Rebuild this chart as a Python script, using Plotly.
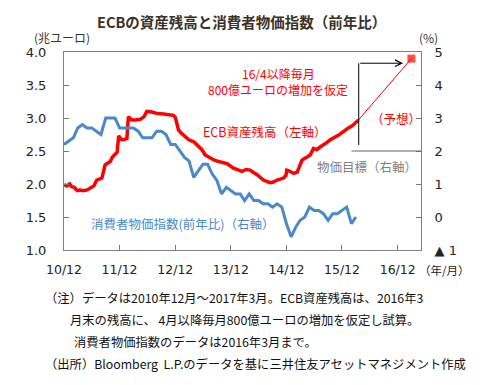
import plotly.graph_objects as go

# ---------------- data ----------------
ecb_dates = [
    "2010-12-01","2010-12-20","2011-01-07","2011-01-20","2011-02-07","2011-02-25","2011-03-15","2011-04-07",
    "2011-05-01","2011-05-15","2011-06-01","2011-06-15","2011-07-04","2011-07-20","2011-08-07","2011-08-28",
    "2011-09-12","2011-10-01","2011-10-15","2011-11-01","2011-11-15","2011-11-25","2011-12-10","2011-12-28",
    "2012-01-18","2012-01-28","2012-02-20","2012-03-15","2012-04-15","2012-05-10","2012-05-28","2012-07-01",
    "2012-08-01","2012-09-15","2012-11-01","2012-11-18","2012-12-01","2012-12-22","2013-01-10","2013-01-25",
    "2013-02-28","2013-04-01","2013-05-01","2013-05-25","2013-06-15","2013-07-18","2013-08-15","2013-09-12",
    "2013-10-10","2013-11-06","2013-12-18","2014-01-15","2014-02-12","2014-03-10","2014-04-06","2014-05-01",
    "2014-05-22","2014-07-03","2014-08-01","2014-08-15","2014-09-06","2014-10-01","2014-11-12","2014-11-28",
    "2014-12-03","2014-12-18","2015-01-18","2015-02-10","2015-03-01","2015-03-13","2015-04-10","2015-05-06",
    "2015-05-28","2015-06-18","2015-07-10","2015-08-01","2015-08-25","2015-09-15","2015-10-12","2015-11-10",
    "2015-12-01","2015-12-22","2016-01-12","2016-02-06","2016-02-24","2016-03-18",
]
ecb_values = [
    1.99, 1.97, 2.00, 1.96, 1.95, 1.90, 1.91, 1.90,
    1.91, 1.93, 1.95, 1.97, 2.06, 2.07, 2.09, 2.29,
    2.31, 2.34, 2.41, 2.46, 2.48, 2.73, 2.68, 2.67,
    2.69, 3.02, 2.97, 2.97, 2.98, 3.02, 3.10, 3.09,
    3.07, 3.06, 3.05, 3.04, 3.01, 2.82, 2.77, 2.74,
    2.67, 2.64, 2.57, 2.52, 2.44, 2.39, 2.36, 2.34,
    2.33, 2.31, 2.24, 2.22, 2.19, 2.22, 2.21, 2.17,
    2.14, 2.06, 2.03, 2.02, 2.03, 2.06, 2.09, 2.13,
    2.21, 2.20, 2.16, 2.18, 2.29, 2.36, 2.40, 2.44,
    2.54, 2.52, 2.56, 2.59, 2.63, 2.67, 2.70, 2.74,
    2.78, 2.82, 2.85, 2.88, 2.92, 2.97,
]

forecast_dates = ["2016-03-18", "2017-03-01"]
forecast_values = [2.97, 3.90]

cpi_dates = [
    "2010-12-01","2011-01-01","2011-02-01","2011-03-01","2011-04-01","2011-05-01","2011-06-01","2011-07-01",
    "2011-08-01","2011-09-01","2011-10-01","2011-11-01","2011-12-01","2012-01-01","2012-02-01","2012-03-01",
    "2012-04-01","2012-05-01","2012-06-01","2012-07-01","2012-08-01","2012-09-01","2012-10-01","2012-11-01",
    "2012-12-01","2013-01-01","2013-02-01","2013-03-01","2013-04-01","2013-05-01","2013-06-01","2013-07-01",
    "2013-08-01","2013-09-01","2013-10-01","2013-11-01","2013-12-01","2014-01-01","2014-02-01","2014-03-01",
    "2014-04-01","2014-05-01","2014-06-01","2014-07-01","2014-08-01","2014-09-01","2014-10-01","2014-11-01",
    "2014-12-01","2015-01-01","2015-02-01","2015-03-01","2015-04-01","2015-05-01","2015-06-01","2015-07-01",
    "2015-08-01","2015-09-01","2015-10-01","2015-11-01","2015-12-01","2016-01-01","2016-02-01","2016-03-01",
]
cpi_values = [
    2.2, 2.3, 2.4, 2.7, 2.8, 2.7, 2.7, 2.6,
    2.5, 3.0, 3.0, 3.0, 2.7, 2.7, 2.7, 2.7,
    2.6, 2.4, 2.4, 2.4, 2.6, 2.6, 2.5, 2.2,
    2.2, 2.0, 1.8, 1.7, 1.2, 1.4, 1.6, 1.6,
    1.3, 1.1, 0.7, 0.9, 0.8, 0.7, 0.7, 0.5,
    0.7, 0.5, 0.5, 0.4, 0.4, 0.3, 0.4, 0.3,
    -0.2, -0.6, -0.3, -0.1, 0.0, 0.3, 0.2, 0.2,
    0.1, -0.1, 0.1, 0.1, 0.2, 0.3, -0.2, 0.0,
]

price_target = 2.0

x_tick_vals = ["2010-12-01","2011-12-01","2012-12-01","2013-12-01","2014-12-01","2015-12-01","2016-12-01"]
x_tick_text = ["10/12","11/12","12/12","13/12","14/12","15/12","16/12"]
left_tick_vals = [1.0, 1.5, 2.0, 2.5, 3.0, 3.5, 4.0]
left_tick_text = ["1.0","1.5","2.0","2.5","3.0","3.5","4.0"]
right_tick_vals = [-1, 0, 1, 2, 3, 4, 5]
right_tick_text = ["▲ 1","0","1","2","3","4","5"]

JP = "Noto Sans CJK JP"
NUM = "DejaVu Sans, Noto Sans CJK JP"
RED = "#ff0000"
BLUE = "#4a88cc"

# page body has an 8px margin: figure drawn 8px right/down of the window corner
OFF = 8
W, H = 483 - OFF, 385 - OFF
ML, MT = 64 - OFF, 52 - OFF
MR = W - (421 - OFF)
MB = H - (250 - OFF)
PW, PH = W - ML - MR, H - MT - MB


def px(x):
    return (x - OFF - ML) / PW


def py(y):
    return (MT + PH - (y - OFF)) / PH


fig = go.Figure()

fig.add_trace(go.Scatter(
    x=cpi_dates, y=cpi_values, yaxis="y2", mode="lines",
    line=dict(color=BLUE, width=3), hoverinfo="skip", showlegend=False))

fig.add_trace(go.Scatter(
    x=ecb_dates, y=ecb_values, mode="lines",
    line=dict(color=RED, width=3.5), hoverinfo="skip", showlegend=False))

fig.add_trace(go.Scatter(
    x=forecast_dates, y=forecast_values, mode="lines+markers",
    line=dict(color=RED, width=1),
    marker=dict(symbol="square", size=[0, 8], color=RED, line=dict(width=0)),
    hoverinfo="skip", showlegend=False))

# price target line (right axis = 2)
fig.add_shape(type="line", xref="x", yref="y2",
              x0="2016-02-01", x1="2017-05-03", y0=price_target, y1=price_target,
              line=dict(color="#666666", width=1))

# bracket: vertical line + arrow
fig.add_shape(type="line", xref="x", yref="y",
              x0="2016-03-20", x1="2016-03-20", y0=2.59, y1=3.83,
              line=dict(color="#000000", width=1))
fig.add_annotation(x="2017-01-05", y=3.83, ax="2016-03-20", ay=3.83,
                   xref="x", yref="y", axref="x", ayref="y",
                   text="", showarrow=True, arrowhead=5, arrowsize=1.3,
                   arrowwidth=1, arrowcolor="#000000")

annos = [
    (241, 22, "<b>ECBの資産残高と消費者物価指数（前年比）</b>", 14.5, "#3a3226", "center"),
    (62, 37, "(兆ユーロ)", 12, "#333333", "center"),
    (428, 37, "(%)", 12, "#333333", "center"),
    (278, 73, "16/4以降毎月", 12, RED, "center"),
    (278, 89, "800億ユーロの増加を仮定", 12, RED, "center"),
    (265, 131, "ECB資産残高（左軸）", 12.5, RED, "center"),
    (396, 118, "（予想）", 12.5, RED, "center"),
    (367, 166, "物価目標（右軸）", 12.5, "#808080", "center"),
    (182, 223, "消費者物価指数(前年比)（右軸）", 12.5, BLUE, "center"),
    (444, 270, "（年/月）", 11.5, "#222222", "center"),
]
for x, y, t, s, c, anc in annos:
    fig.add_annotation(x=px(x), y=py(y), xref="paper", yref="paper",
                       text=t, showarrow=False, xanchor=anc, yanchor="middle",
                       font=dict(family=JP, size=s, color=c))

notes = [
    (43, 298, "（注）データは2010年12月～2017年3月。ECB資産残高は、2016年3"),
    (68, 320, "月末の残高に、 4月以降毎月800億ユーロの増加を仮定し試算。"),
    (72, 342, "消費者物価指数のデータは2016年3月まで。"),
    (43, 364, "（出所）Bloomberg  L.P.のデータを基に三井住友アセットマネジメント作成"),
]
for x, y, t in notes:
    fig.add_annotation(x=px(x), y=py(y), xref="paper", yref="paper",
                       text=t, showarrow=False, xanchor="left", yanchor="middle",
                       font=dict(family=JP, size=12.3, color="#111111"))

fig.update_layout(
    width=W, height=H,
    margin=dict(l=ML, r=MR, t=MT, b=MB, autoexpand=False),
    paper_bgcolor="white", plot_bgcolor="white",
    showlegend=False,
    xaxis=dict(
        type="date", range=["2010-12-01", "2017-05-03"],
        tickvals=x_tick_vals, ticktext=x_tick_text,
        ticks="inside", ticklen=5, tickcolor="#777777",
        showline=True, linecolor="#808080", linewidth=1, mirror=True,
        showgrid=False, zeroline=False, automargin=False,
        tickfont=dict(family=NUM, size=12.5, color="#222222"),
        ticklabelstandoff=8,
    ),
    yaxis=dict(
        range=[1.0, 4.0], tickvals=left_tick_vals, ticktext=left_tick_text,
        ticks="inside", ticklen=5, tickcolor="#777777",
        showline=True, linecolor="#808080", linewidth=1,
        showgrid=False, zeroline=False, automargin=False,
        tickfont=dict(family=NUM, size=13, color="#222222"),
        ticklabelstandoff=14,
    ),
    yaxis2=dict(
        range=[-1, 5], tickvals=right_tick_vals, ticktext=right_tick_text,
        overlaying="y", side="right",
        ticks="inside", ticklen=5, tickcolor="#777777",
        showline=True, linecolor="#808080", linewidth=1,
        showgrid=False, zeroline=False, automargin=False,
        tickfont=dict(family=NUM, size=13, color="#222222"),
        ticklabelstandoff=10,
    ),
)

fig.write_html("out.html")
